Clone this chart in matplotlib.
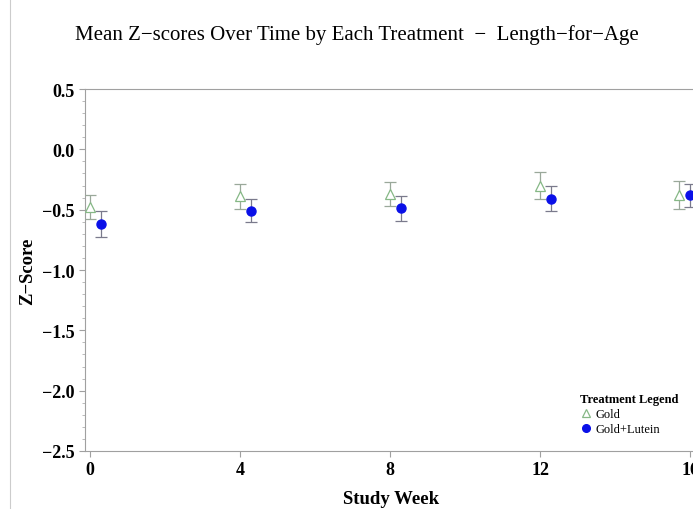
import numpy as np
import matplotlib.pyplot as plt
from matplotlib.lines import Line2D

# study week positions for each group
gold_week = [0.0, 4.0, 8.0, 12.0, 15.7]
lutein_week = [0.3, 4.3, 8.3, 12.3, 16.0]

# mean z-scores and error half-widths
gold_mean = [-0.48, -0.39, -0.37, -0.30, -0.38]
gold_err = [0.10, 0.105, 0.10, 0.11, 0.118]
lutein_mean = [-0.62, -0.51, -0.49, -0.41, -0.38]
lutein_err = [0.105, 0.095, 0.10, 0.105, 0.095]

week_ticks = [0, 4, 8, 12, 16]
z_ticks = [0.5, 0.0, -0.5, -1.0, -1.5, -2.0, -2.5]

plt.rcParams['font.family'] = ['Liberation Serif', 'DejaVu Serif']

W, H = 693, 510
fig = plt.figure(figsize=(W / 100, H / 100), dpi=100)
ax = fig.add_axes([85 / W, 1 - 452 / H, (697 - 85) / W, (452 - 90) / H])

gold_c, lutein_c = '#86b886', '#0a10e8'
ax.errorbar(gold_week, gold_mean, yerr=gold_err, fmt='^', ms=6.5,
            mfc='white', mec=gold_c, mew=0.9, ecolor='#9aa89a',
            elinewidth=0.9, capsize=4, capthick=0.9, zorder=3)
ax.errorbar(lutein_week, lutein_mean, yerr=lutein_err, fmt='o', ms=6.5,
            mfc=lutein_c, mec=lutein_c, ecolor='#7a7a8c',
            elinewidth=0.9, capsize=4, capthick=0.9, zorder=3)

ax.set_xlim(-0.13, 16.18)
ax.set_ylim(-2.5, 0.5)
ax.set_xticks(week_ticks)
ax.set_yticks(z_ticks)
ax.set_yticks(np.arange(-2.5, 0.51, 0.1), minor=True)

for side in ['left', 'bottom', 'top']:
    ax.spines[side].set_color('#a0a0a0')
    ax.spines[side].set_linewidth(0.8)
ax.spines['right'].set_visible(False)

ax.tick_params(axis='both', which='major', direction='out', length=4,
               width=0.8, color='#a0a0a0', labelsize=13)
ax.tick_params(axis='y', which='minor', direction='out', length=2,
               width=0.6, color='#b0b0b0')
for lbl in ax.get_xticklabels() + ax.get_yticklabels():
    lbl.set_fontweight('bold')

ax.set_xlabel('Study Week', fontsize=13.5, fontweight='bold', labelpad=8)
ax.set_ylabel('Z\u2212Score', fontsize=13.5, fontweight='bold', labelpad=4)

handles = [
    Line2D([], [], ls='none', marker='^', ms=5.5, mfc='white', mec=gold_c, mew=0.9),
    Line2D([], [], ls='none', marker='o', ms=5.5, mfc=lutein_c, mec=lutein_c),
]
leg = ax.legend(handles, ['Gold', 'Gold+Lutein'], loc='lower left',
                bbox_to_anchor=(0.80, 0.03), frameon=False,
                title='Treatment Legend', fontsize=9, handletextpad=0.3,
                handlelength=1.0, labelspacing=0.25, borderaxespad=0)
leg.get_title().set_fontweight('bold')
leg.get_title().set_fontsize(9)
leg._legend_box.align = 'left'

fig.text(357 / W, 1 - 35 / H,
         'Mean Z\u2212scores Over Time by Each Treatment  \u2212  Length\u2212for\u2212Age',
         ha='center', va='center', fontsize=15)

# thin frame line on the left edge
fig.add_artist(Line2D([10 / W, 10 / W], [0, 1], color='#cccccc', lw=0.8))

fig.savefig('out.png', dpi=100)
